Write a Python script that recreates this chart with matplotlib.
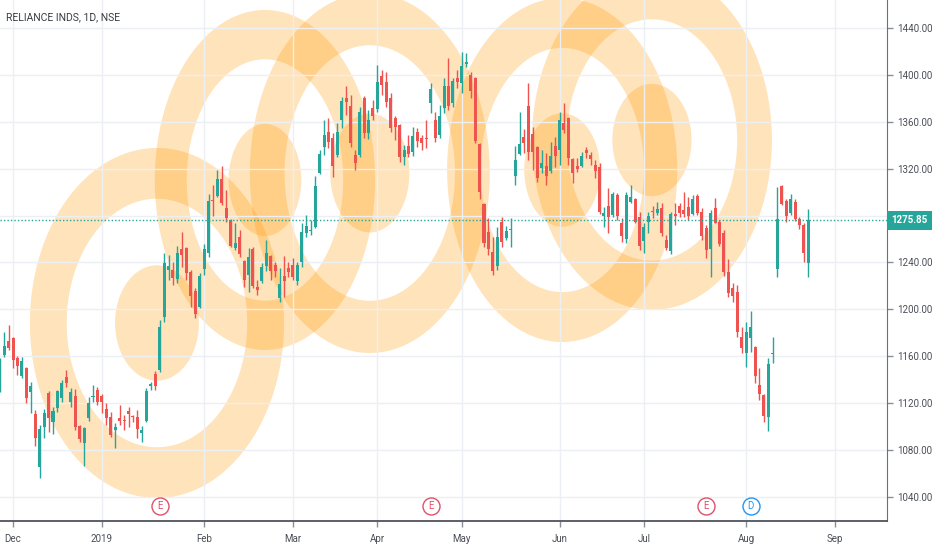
import numpy as np
import matplotlib
matplotlib.use('Agg')
import matplotlib.pyplot as plt
from matplotlib.path import Path
from matplotlib.patches import PathPatch, Ellipse
from matplotlib.ticker import FuncFormatter
from matplotlib.transforms import blended_transform_factory

plt.rcParams['font.family'] = ['Roboto', 'DejaVu Sans']

# daily candles, bar index 0 = 3 Dec 2018 (trading days only)
bar_start = -3
opens = [1133.0, 1161.1, 1173.1, 1175.6, 1158.6, 1143.2, 1150.0, 1129.6, 1110.8, 1065.6,
         1099.7, 1128.7, 1104.0, 1115.9, 1124.4, 1142.4, 1121.0, 1126.1, 1100.6, 1086.1,
         1107.4, 1125.3, 1131.3, 1126.1, 1115.1, 1108.2, 1097.1, 1107.4, 1105.9, 1113.0,
         1108.8, 1108.2, 1094.6, 1104.8, 1134.7, 1144.9, 1148.3, 1193.5, 1233.6, 1233.6,
         1225.9, 1251.5, 1252.4, 1231.9, 1215.7, 1202.1, 1234.5, 1248.1, 1293.3, 1296.7,
         1311.2, 1286.5, 1276.3, 1252.4, 1261.8, 1241.3, 1229.4, 1251.5, 1219.1, 1224.2,
         1237.0, 1245.6, 1237.9, 1209.7, 1228.5, 1235.3, 1237.9, 1224.2, 1240.4, 1265.2,
         1267.0, 1270.3, 1316.6, 1338.3, 1351.3, 1346.2, 1331.7, 1361.6, 1380.3, 1373.8,
         1331.7, 1331.7, 1380.3, 1350.7, 1372.1, 1370.9, 1399.3, 1394.2, 1380.6, 1363.3,
         1357.3, 1329.7, 1339.4, 1334.0, 1351.6, 1346.5, 1346.5, 1375.8, 1361.6, 1348.8,
         1371.5, 1390.8, 1375.8, 1397.6, 1392.9, 1409.3, 1399.9, 1397.1, 1341.1, 1289.9,
         1265.8, 1248.7, 1237.0, 1274.3, 1260.7, 1267.7, 1313.8, 1332.6, 1347.3, 1373.8,
         1349.6, 1338.3, 1320.9, 1322.3, 1318.1, 1339.4, 1336.0, 1359.3, 1363.5, 1328.0,
         1322.3, 1322.3, 1336.0, 1331.7, 1323.2, 1321.7, 1279.9, 1288.2, 1280.5, 1297.6,
         1274.0, 1259.8, 1291.9, 1293.9, 1278.6, 1258.6, 1274.8, 1284.2, 1282.0, 1286.2,
         1259.2, 1250.1, 1281.4, 1288.2, 1284.8, 1287.3, 1281.4, 1296.7, 1283.3, 1269.2,
         1251.5, 1286.2, 1274.8, 1264.9, 1232.2, 1218.0, 1215.1, 1176.7, 1163.1, 1175.9,
         1168.2, 1135.5, 1127.0, 1108.5, 1162.0, 1234.2, 1305.3, 1292.7, 1282.0, 1291.9,
         1276.9, 1272.0, 1239.8]
highs = [1158.6, 1180.7, 1186.7, 1176.5, 1160.0, 1159.4, 1151.0, 1138.1, 1114.2, 1101.4,
         1115.1, 1130.0, 1116.8, 1131.3, 1139.8, 1148.3, 1133.0, 1132.1, 1101.4, 1100.0,
         1125.3, 1135.5, 1133.8, 1127.9, 1120.2, 1112.5, 1103.1, 1118.5, 1110.0, 1116.8,
         1110.0, 1114.2, 1100.6, 1133.0, 1138.1, 1147.5, 1191.0, 1248.1, 1246.4, 1240.4,
         1254.1, 1266.0, 1253.2, 1233.6, 1218.3, 1231.1, 1255.8, 1298.4, 1306.1, 1318.9,
         1322.3, 1301.8, 1277.0, 1273.7, 1267.7, 1242.1, 1252.4, 1253.2, 1225.1, 1239.6,
         1259.2, 1246.4, 1240.4, 1235.3, 1245.6, 1240.4, 1243.8, 1240.4, 1273.7, 1280.5,
         1276.3, 1313.8, 1336.0, 1361.6, 1363.3, 1350.5, 1359.0, 1381.2, 1390.6, 1382.9,
         1336.0, 1372.6, 1382.0, 1370.1, 1378.6, 1408.5, 1404.2, 1402.5, 1384.6, 1365.0,
         1358.0, 1340.2, 1348.8, 1355.6, 1354.7, 1348.8, 1361.6, 1393.1, 1368.4, 1374.3,
         1397.4, 1414.4, 1397.4, 1404.2, 1419.5, 1418.7, 1402.5, 1398.0, 1342.0, 1291.0,
         1278.0, 1261.8, 1270.3, 1278.8, 1271.1, 1278.0, 1339.4, 1368.4, 1353.9, 1393.1,
         1355.6, 1339.0, 1336.0, 1333.4, 1342.8, 1347.1, 1368.4, 1376.1, 1364.0, 1329.0,
         1329.0, 1334.3, 1338.5, 1334.3, 1327.4, 1324.9, 1287.3, 1303.6, 1300.1, 1299.3,
         1278.0, 1300.1, 1306.1, 1295.0, 1283.1, 1274.0, 1283.3, 1288.2, 1291.9, 1291.0,
         1263.5, 1283.3, 1290.8, 1291.0, 1300.4, 1296.1, 1297.6, 1298.4, 1286.2, 1272.0,
         1284.8, 1294.8, 1276.3, 1267.7, 1243.0, 1222.5, 1220.8, 1185.3, 1189.5, 1198.9,
         1169.0, 1149.8, 1128.0, 1158.3, 1176.7, 1304.7, 1306.1, 1293.9, 1298.4, 1293.9,
         1279.1, 1273.4, 1285.4]
lows = [1129.6, 1159.4, 1165.4, 1150.0, 1144.0, 1141.5, 1120.2, 1111.7, 1083.5, 1056.2,
        1090.3, 1095.4, 1093.7, 1112.5, 1121.0, 1133.8, 1116.8, 1097.1, 1086.9, 1066.5,
        1104.8, 1121.0, 1118.5, 1111.7, 1101.4, 1091.2, 1081.8, 1101.4, 1097.1, 1099.7,
        1104.0, 1090.3, 1086.9, 1104.0, 1131.3, 1131.3, 1146.6, 1189.3, 1225.1, 1220.8,
        1222.5, 1236.2, 1225.1, 1202.0, 1192.7, 1201.2, 1229.4, 1244.7, 1279.7, 1295.9,
        1289.1, 1274.6, 1253.2, 1250.7, 1244.7, 1219.1, 1214.8, 1218.3, 1212.3, 1222.5,
        1232.8, 1225.1, 1227.6, 1206.3, 1210.6, 1227.6, 1225.1, 1220.8, 1236.2, 1261.8,
        1263.5, 1269.5, 1315.5, 1331.7, 1337.7, 1312.9, 1330.0, 1354.7, 1365.8, 1338.5,
        1318.9, 1330.0, 1346.2, 1345.4, 1361.6, 1368.4, 1382.9, 1372.6, 1351.3, 1344.5,
        1325.7, 1323.2, 1330.0, 1330.9, 1338.5, 1336.0, 1337.7, 1367.5, 1342.8, 1346.2,
        1367.5, 1370.1, 1372.6, 1388.8, 1384.6, 1406.8, 1380.3, 1341.9, 1294.2, 1253.2,
        1246.4, 1229.4, 1233.6, 1253.2, 1259.2, 1253.2, 1306.1, 1331.7, 1333.4, 1327.4,
        1318.9, 1308.6, 1316.3, 1306.1, 1316.3, 1321.5, 1323.2, 1350.5, 1323.2, 1307.8,
        1317.2, 1321.5, 1329.1, 1323.2, 1312.1, 1281.4, 1270.3, 1265.2, 1278.8, 1276.3,
        1257.5, 1256.6, 1290.8, 1273.7, 1250.7, 1248.4, 1265.2, 1278.0, 1280.5, 1262.6,
        1250.7, 1247.3, 1272.0, 1279.1, 1279.1, 1276.3, 1280.5, 1280.5, 1259.2, 1243.9,
        1227.9, 1273.4, 1254.1, 1228.5, 1210.9, 1206.6, 1176.7, 1162.6, 1151.1, 1163.9,
        1137.2, 1122.7, 1104.2, 1096.6, 1154.0, 1227.9, 1289.1, 1274.8, 1280.5, 1275.7,
        1268.3, 1240.7, 1227.9]
closes = [1152.6, 1168.8, 1167.1, 1156.9, 1151.7, 1156.0, 1124.4, 1134.7, 1090.3, 1098.0,
          1111.7, 1107.4, 1113.4, 1130.4, 1137.2, 1137.2, 1129.6, 1099.7, 1089.5, 1098.9,
          1120.2, 1126.1, 1121.0, 1121.0, 1107.4, 1092.9, 1099.7, 1104.8, 1105.0, 1110.8,
          1108.0, 1098.0, 1097.1, 1130.4, 1136.4, 1134.7, 1185.0, 1239.6, 1237.0, 1226.8,
          1248.1, 1246.4, 1231.1, 1211.4, 1196.1, 1228.5, 1251.5, 1292.5, 1292.5, 1311.2,
          1290.8, 1278.0, 1254.1, 1256.6, 1247.3, 1225.1, 1244.7, 1220.0, 1216.6, 1236.2,
          1248.1, 1232.8, 1232.8, 1221.7, 1224.2, 1231.9, 1227.6, 1237.9, 1266.0, 1271.1,
          1268.0, 1305.3, 1332.3, 1348.8, 1342.8, 1322.3, 1351.3, 1378.0, 1376.9, 1342.2,
          1325.1, 1368.6, 1350.5, 1361.6, 1365.0, 1393.7, 1391.4, 1376.7, 1354.5, 1355.6,
          1330.3, 1336.0, 1332.6, 1347.9, 1343.9, 1341.7, 1345.1, 1387.7, 1346.5, 1365.0,
          1390.8, 1373.5, 1394.8, 1394.2, 1407.6, 1411.0, 1386.5, 1343.6, 1300.4, 1256.9,
          1251.5, 1232.8, 1261.5, 1257.8, 1266.9, 1268.6, 1327.4, 1341.1, 1341.7, 1334.5,
          1334.0, 1311.8, 1325.1, 1314.0, 1330.9, 1331.1, 1361.6, 1353.0, 1328.9, 1316.1,
          1319.8, 1330.9, 1333.2, 1328.0, 1318.3, 1283.3, 1282.5, 1278.8, 1298.4, 1279.7,
          1262.6, 1297.6, 1295.6, 1274.8, 1254.1, 1270.0, 1279.7, 1282.8, 1285.4, 1264.9,
          1252.1, 1281.4, 1279.9, 1282.0, 1281.1, 1279.7, 1293.9, 1282.0, 1262.6, 1250.3,
          1282.5, 1274.0, 1255.8, 1232.2, 1214.3, 1211.4, 1181.0, 1166.8, 1180.5, 1185.3,
          1143.5, 1127.9, 1109.1, 1153.4, 1162.8, 1276.9, 1289.9, 1279.7, 1293.9, 1276.9,
          1272.0, 1247.9, 1275.85]

month_pos = [0, 20, 43, 63, 82, 101, 123, 142, 165, 185]
month_labels = ['Dec', '2019', 'Feb', 'Mar', 'Apr', 'May', 'Jun', 'Jul', 'Aug', 'Sep']

# orange ring drawings (bar index / price units)
ring_x = [32.4, 56.7, 80.3, 123.6, 143.8]
ring_y = [1188.4, 1310.4, 1316.3, 1318.9, 1344.5]
ring_rx = [28.6, 24.8, 27.0, 25.9, 27.0]
ring_ry = [149.3, 145.0, 153.5, 146.7, 145.0]

event_x = [33, 94, 156, 166]
event_labels = ['E', 'E', 'E', 'D']

last_price = closes[-1]

opens = np.array(opens)
highs = np.array(highs)
lows = np.array(lows)
closes = np.array(closes)
x = np.arange(bar_start, bar_start + len(opens))

green = '#26a69a'
red = '#ef5350'
orange = '#ff9800'


def ring_path(cx, cy, rx, ry, inner=0.71):
    t = np.linspace(0, 2 * np.pi, 181)
    outer = np.column_stack([cx + rx * np.cos(t), cy + ry * np.sin(t)])
    tr = t[::-1]
    hole = np.column_stack([cx + inner * rx * np.cos(tr), cy + inner * ry * np.sin(tr)])
    codes = [Path.MOVETO] + [Path.LINETO] * 180
    return Path(np.vstack([outer, hole]), codes + codes)


def price_fmt(v, pos):
    # the last-price tag covers the scale label next to it
    if abs(v - last_price) < 12:
        return ''
    return '%.2f' % v


fig = plt.figure(figsize=(9.32, 5.5), dpi=100)
ax = fig.add_axes([0, 1 - 521 / 550, 887 / 932, 521 / 550])

for cx, cy, rx, ry in zip(ring_x, ring_y, ring_rx, ring_ry):
    ax.add_patch(PathPatch(ring_path(cx, cy, rx, ry), facecolor=orange,
                           edgecolor='none', alpha=0.27, zorder=0.2))
    ax.add_patch(Ellipse((cx, cy), 2 * 0.33 * rx, 2 * 0.33 * ry, facecolor=orange,
                         edgecolor='none', alpha=0.27, zorder=0.2))

up = closes >= opens
cols = np.where(up, green, red)
ax.vlines(x, lows, highs, colors=cols, linewidth=1, zorder=3)
body_lo = np.minimum(opens, closes)
body_h = np.maximum(np.abs(closes - opens), 1.0)
ax.bar(x, body_h, bottom=body_lo, width=0.68, color=cols, linewidth=0, zorder=4)

ax.axhline(last_price, color=green, linestyle=(0, (1, 1.5)), linewidth=1, zorder=5)

ax.set_xlim(-2.93, 196.7)
ax.set_ylim(1019.5, 1463.9)
ax.yaxis.tick_right()
ax.set_yticks(np.arange(1040, 1441, 40))
ax.yaxis.set_major_formatter(FuncFormatter(price_fmt))
ax.set_xticks(month_pos)
ax.set_xticklabels(month_labels)
ax.tick_params(axis='both', color='#8a8e97', labelcolor='#4a4e57', labelsize=7, length=4, width=1)
ax.tick_params(axis='x', pad=5)
ax.tick_params(axis='y', pad=3)
for s in ['top', 'left']:
    ax.spines[s].set_visible(False)
ax.spines['right'].set_color('#6b6f78')
ax.spines['bottom'].set_color('#50535c')
ax.spines['bottom'].set_linewidth(1.3)
ax.grid(True, color='#eceff4', linewidth=1)
ax.set_axisbelow(True)

# price tag on the right scale
tag = blended_transform_factory(ax.transAxes, ax.transData)
ax.text(1.005, last_price, '%.2f' % last_price, transform=tag, ha='left', va='center',
        color='white', fontsize=7, fontweight='bold', zorder=10, clip_on=False,
        bbox=dict(boxstyle='square,pad=0.45', fc=green, ec='none'))

# earnings / dividend markers
xt = ax.get_xaxis_transform()
for ex, lab in zip(event_x, event_labels):
    c = '#2196f3' if lab == 'D' else '#e0506a'
    ax.scatter([ex], [0.029], transform=xt, s=150, facecolors='white', edgecolors=c,
               linewidths=1, zorder=8, clip_on=False)
    ax.text(ex, 0.029, lab, transform=xt, ha='center', va='center', color=c,
            fontsize=7, zorder=9)

fig.text(6 / 932, 1 - 17 / 550, 'RELIANCE INDS, 1D, NSE', fontsize=7.5, color='#3a3d45',
         va='center', ha='left')

fig.savefig('out.png', dpi=100)
